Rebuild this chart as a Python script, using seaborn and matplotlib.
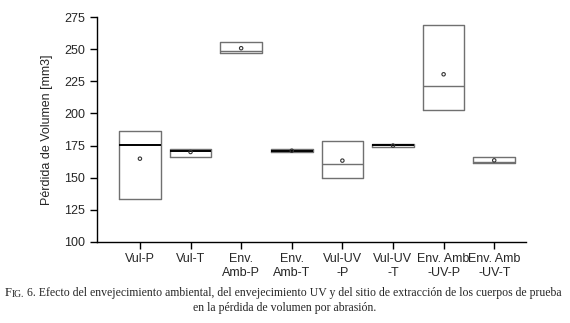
import pandas as pd
import matplotlib
matplotlib.use("Agg")
import matplotlib.pyplot as plt
import seaborn as sns

# Values (volume loss, mm3)
categories = ["Vul-P", "Vul-T", "Env.\nAmb-P", "Env.\nAmb-T",
              "Vul-UV\n-P", "Vul-UV\n-T", "Env. Amb\n-UV-P", "Env. Amb\n-UV-T"]
q1 = [133.6, 166.4, 246.9, 170.3, 150.0, 174.2, 202.6, 161.7]
medians = [175.2, 171.1, 248.9, 170.8, 160.4, 175.2, 221.1, 162.3]
q3 = [186.7, 172.7, 255.5, 172.7, 178.9, 176.6, 268.7, 166.4]
means = [164.8, 170.0, 250.8, 171.0, 163.3, 175.0, 230.5, 163.5]
y_ticks = [100, 125, 150, 175, 200, 225, 250, 275]

# which medians appear drawn in black in the original
median_dark = [True, True, False, True, False, True, False, False]

# five points per group give exactly q1 / median / q3 and no whiskers
rows = []
for cat, a, m, b in zip(categories, q1, medians, q3):
    for v in (a, a, m, b, b):
        rows.append({"grupo": cat, "valor": v})
df = pd.DataFrame(rows)

sns.set_style("ticks")
plt.rcParams["font.family"] = ["Liberation Sans", "DejaVu Sans"]

fig = plt.figure(figsize=(5.7, 3.23), dpi=100)
ax = fig.add_axes([0.170, 0.251, 0.753, 0.696])

box_gray = "#707070"
sns.boxplot(data=df, x="grupo", y="valor", order=categories, ax=ax,
            width=0.82, whis=1.5, showcaps=False, showfliers=False,
            fill=False, color=box_gray, linewidth=1.0,
            boxprops={"color": box_gray},
            whiskerprops={"color": box_gray},
            medianprops={"color": box_gray, "linewidth": 1.0})

# recolour the medians that are black in the reference
for line in ax.lines:
    yd = line.get_ydata()
    xd = line.get_xdata()
    if len(yd) == 2 and yd[0] == yd[1] and xd[0] != xd[1]:
        idx = int(round((xd[0] + xd[1]) / 2))
        if 0 <= idx < len(categories) and abs(yd[0] - medians[idx]) < 1e-6 and median_dark[idx]:
            line.set_color("black")
            line.set_linewidth(1.4)

sns.scatterplot(x=categories, y=means, ax=ax, marker="o", s=6,
                facecolor="none", edgecolor="#333333", linewidth=0.8, zorder=5)

ax.set_ylim(100, 275)
ax.set_yticks(y_ticks)
ax.set_xlim(-0.85, 7.63)
ax.set_xlabel("")
ax.set_ylabel("Pérdida de Volumen [mm3]", fontsize=9, labelpad=8)
ax.tick_params(axis="both", labelsize=9, direction="out", length=5, width=1, color="black")
ax.tick_params(axis="x", pad=3)
for sp in ("top", "right"):
    ax.spines[sp].set_visible(False)
for sp in ("left", "bottom"):
    ax.spines[sp].set_color("black")
    ax.spines[sp].set_linewidth(1.0)
for lab in ax.get_xticklabels():
    lab.set_linespacing(1.25)

# caption: "FIG." in small capitals, then the text
serif = ["Liberation Serif", "DejaVu Serif"]
cap_size = 8.5
t1 = fig.text(0.008, 1 - 296 / 323, "F", family=serif, fontsize=cap_size + 0.6,
              va="baseline", ha="left")
t2 = ax.annotate("IG.", xy=(1, 0), xycoords=t1, va="bottom", ha="left",
                 family=serif, fontsize=cap_size - 1.6, annotation_clip=False)
t3 = ax.annotate(" 6. Efecto del envejecimiento ambiental, del envejecimiento UV y del sitio "
                 "de extracción de los cuerpos de prueba",
                 xy=(1, 0), xycoords=t2, va="bottom", ha="left",
                 family=serif, fontsize=cap_size, annotation_clip=False)
fig.text(0.5, 1 - 311 / 323, "en la pérdida de volumen por abrasión.",
         family=serif, fontsize=cap_size, va="baseline", ha="center")

fig.savefig("out.png", dpi=100)
